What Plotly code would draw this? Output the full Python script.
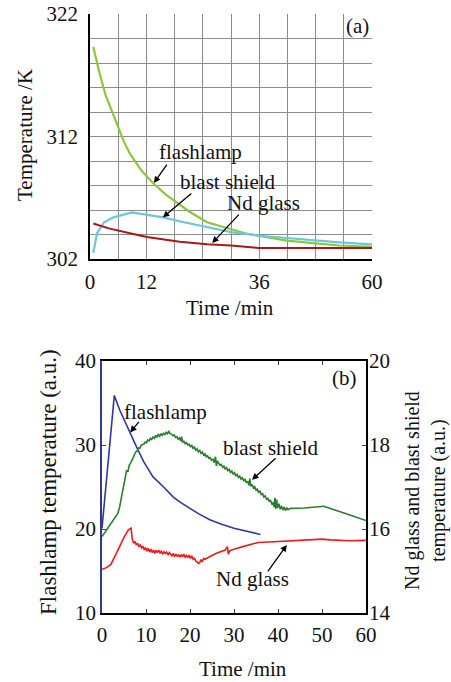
import plotly.graph_objects as go

# ---------------- Panel (a) data ----------------
a_flash_t = [0.7, 2, 3.3, 4.6, 6.0, 7.2, 8.5, 11, 13.4, 16, 18.5, 21, 24.9, 27.5, 30.4, 33, 35.8, 41.9, 47.5, 53, 60]
a_flash_T = [319.3, 317.2, 315.4, 314.1, 312.8, 311.6, 310.6, 309.2, 308.2, 307.3, 306.6, 305.9, 305.0, 304.7, 304.4, 304.1, 303.9, 303.5, 303.3, 303.1, 303.0]
a_shield_t = [0.7, 1.5, 3.0, 5, 8.9, 12, 15.5, 20, 24.9, 30, 36.2, 42, 47.5, 53, 60]
a_shield_T = [302.5, 304.1, 305.0, 305.4, 305.8, 305.6, 305.4, 305.0, 304.6, 304.2, 303.9, 303.7, 303.5, 303.35, 303.2]
a_nd_t = [0.7, 4, 8.5, 12.1, 19.1, 24.9, 30, 35.8, 45, 60]
a_nd_T = [304.9, 304.5, 304.1, 303.8, 303.4, 303.2, 303.1, 302.9, 302.9, 302.9]
a_xticks = [0, 12, 36, 60]
a_yticks = [302, 312, 322]

# ---------------- Panel (b) data ----------------
b_flash_t = [0, 2.8, 4, 5, 6.4, 8, 9.5, 11.6, 14, 16.2, 18, 20, 22, 24.5, 27, 30, 33, 36]
b_flash_v = [20.1, 35.9, 34.2, 33.0, 31.5, 29.6, 28.0, 26.2, 25.0, 23.8, 23.1, 22.4, 21.8, 21.1, 20.6, 20.1, 19.7, 19.35]

b_shield_t = [0, 1, 2, 3, 3.6, 4.0, 4.5, 5.0, 5.3, 5.6, 5.9, 6.2, 6.5, 6.8, 7.1, 7.4, 7.7, 8.0, 8.3, 8.6, 8.9,
              9.2, 9.5, 9.8, 10.1, 10.4, 10.7, 11.0, 11.3, 11.6, 11.9, 12.2, 12.5, 12.8, 13.1, 13.4, 13.7, 14.0,
              14.3, 14.6, 14.9, 15.2, 15.5, 15.8, 16.1, 16.4, 16.7, 17.0, 17.3, 17.6, 17.9, 18.1, 18.3, 18.6,
              18.9, 19.2, 19.5, 19.8, 20.1, 20.4, 20.7, 21.0, 21.3, 21.6, 21.9, 22.2, 22.5, 22.8, 23.1, 23.4,
              23.7, 24.0, 24.3, 24.6, 24.9, 25.2, 25.5, 25.8, 26.0, 26.2, 26.5, 26.8, 27.1, 27.4, 27.7, 28.0,
              28.3, 28.6, 28.9, 29.2, 29.5, 29.8, 30.1, 30.4, 30.7, 31.0, 31.3, 31.6, 31.9, 32.2, 32.5, 32.8,
              33.1, 33.4, 33.6, 33.8, 34.1, 34.4, 34.7, 35.0, 35.3, 35.6, 35.9, 36.2, 36.5, 36.8, 37.1, 37.4,
              37.7, 38.0, 38.3, 38.6, 38.9, 39.1, 39.3, 39.5, 39.7, 39.9, 40.2, 40.5, 40.8, 41.1, 41.4, 41.7,
              42.0, 42.3, 42.6, 43.0, 46, 50.4, 55, 60]
b_shield_v = [15.82, 15.98, 16.12, 16.27, 16.37, 16.52, 16.80, 17.08, 17.22, 17.40, 17.36, 17.52, 17.57, 17.66,
              17.70, 17.78, 17.84, 17.86, 17.93, 17.92, 17.99, 18.01, 18.02, 18.07, 18.05, 18.12, 18.10, 18.16,
              18.13, 18.19, 18.16, 18.23, 18.18, 18.25, 18.21, 18.27, 18.22, 18.29, 18.24, 18.30, 18.27, 18.32,
              18.27, 18.26, 18.22, 18.24, 18.18, 18.20, 18.14, 18.17, 18.10, 18.20, 18.06, 18.09, 18.03, 18.06,
              18.00, 18.02, 17.96, 17.99, 17.92, 17.95, 17.88, 17.91, 17.84, 17.88, 17.80, 17.83, 17.76, 17.79,
              17.72, 17.74, 17.68, 17.70, 17.64, 17.66, 17.58, 17.72, 17.50, 17.62, 17.55, 17.52, 17.54, 17.47,
              17.50, 17.43, 17.46, 17.39, 17.42, 17.35, 17.38, 17.31, 17.34, 17.27, 17.30, 17.23, 17.26, 17.19,
              17.22, 17.15, 17.18, 17.10, 17.14, 17.04, 17.20, 17.02, 17.06, 16.98, 17.01, 16.93, 16.95, 16.87,
              16.90, 16.82, 16.84, 16.76, 16.79, 16.71, 16.73, 16.66, 16.68, 16.60, 16.63, 16.52, 16.74, 16.48,
              16.70, 16.50, 16.60, 16.47, 16.55, 16.45, 16.52, 16.44, 16.50, 16.46, 16.48, 16.49, 16.50, 16.54,
              16.38, 16.20]

b_nd_t = [0, 1, 2, 3, 4, 5, 6, 6.6, 6.9, 7.2, 7.5, 7.8, 8.1, 8.4, 8.7, 9.0, 9.3, 9.6, 9.9, 10.2, 10.5, 10.8,
          11.1, 11.4, 11.7, 12.0, 12.3, 12.6, 12.9, 13.2, 13.5, 13.8, 14.1, 14.4, 14.7, 15.0, 15.3, 15.6, 15.9,
          16.2, 16.5, 16.8, 17.1, 17.4, 17.7, 18.0, 18.3, 18.6, 18.9, 19.2, 19.5, 19.8, 20.1, 20.4, 20.7, 21.0,
          21.3, 21.6, 21.9, 22.2, 22.5, 22.8, 23.1, 23.4, 24, 25, 26, 27, 28, 28.5, 28.7, 29, 30, 32, 34, 35.5,
          38, 42, 46, 50, 52, 56, 60]
b_nd_v = [15.04, 15.08, 15.15, 15.35, 15.58, 15.80, 15.98, 16.02, 15.75, 15.66, 15.70, 15.62, 15.66, 15.58,
          15.62, 15.55, 15.59, 15.50, 15.56, 15.47, 15.54, 15.45, 15.52, 15.44, 15.50, 15.42, 15.49, 15.44,
          15.50, 15.43, 15.47, 15.40, 15.46, 15.42, 15.45, 15.38, 15.44, 15.40, 15.36, 15.42, 15.34, 15.40,
          15.35, 15.38, 15.33, 15.39, 15.34, 15.40, 15.33, 15.37, 15.32, 15.38, 15.30, 15.36, 15.28, 15.30,
          15.24, 15.22, 15.18, 15.20, 15.27, 15.22, 15.30, 15.28, 15.32, 15.37, 15.42, 15.46, 15.50, 15.58,
          15.40, 15.48, 15.52, 15.58, 15.64, 15.68, 15.69, 15.71, 15.73, 15.76, 15.74, 15.72, 15.73]

FONT = "Liberation Serif, Tinos, Times New Roman, serif"
W, H = 451, 682


def px(x):
    return x / W


def py(y):
    return 1 - y / H


fig = go.Figure()

# Panel (a)
fig.add_trace(go.Scatter(x=a_flash_t, y=a_flash_T, mode="lines", line=dict(color="#8cc63f", width=2.2),
                         xaxis="x", yaxis="y", showlegend=False))
fig.add_trace(go.Scatter(x=a_shield_t, y=a_shield_T, mode="lines", line=dict(color="#6cc8d6", width=2.2),
                         xaxis="x", yaxis="y", showlegend=False))
fig.add_trace(go.Scatter(x=a_nd_t, y=a_nd_T, mode="lines", line=dict(color="#a81818", width=2),
                         xaxis="x", yaxis="y", showlegend=False))

# Panel (b)
fig.add_trace(go.Scatter(x=b_flash_t, y=b_flash_v, mode="lines", line=dict(color="#2e3a96", width=1.6),
                         xaxis="x2", yaxis="y2", showlegend=False))
fig.add_trace(go.Scatter(x=b_shield_t, y=b_shield_v, mode="lines", line=dict(color="#2b7d2b", width=1.6),
                         xaxis="x2", yaxis="y3", showlegend=False))
fig.add_trace(go.Scatter(x=b_nd_t, y=b_nd_v, mode="lines", line=dict(color="#e81c1c", width=1.6),
                         xaxis="x2", yaxis="y3", showlegend=False))

tickfont = dict(family=FONT, size=21, color="#111")
grid = "#8c8c8c"

layout = dict(
    width=W, height=H, margin=dict(l=0, r=0, t=0, b=0),
    paper_bgcolor="white", plot_bgcolor="white",
    font=dict(family=FONT, size=20, color="#111"),
    xaxis=dict(domain=[px(90), px(372)], range=[0, 60], tickvals=a_xticks, ticks="",
               showgrid=True, gridcolor=grid, gridwidth=1,
               minor=dict(dtick=6, tick0=0, showgrid=True, gridcolor=grid, gridwidth=1),
               showline=True, linecolor="black", linewidth=1.5, zeroline=False,
               tickfont=tickfont, anchor="y", automargin=False, ticklabelstandoff=3),
    yaxis=dict(domain=[py(259), py(14)], range=[302, 322], tickvals=a_yticks, ticks="",
               showgrid=True, gridcolor=grid, gridwidth=1,
               minor=dict(dtick=2, tick0=302, showgrid=True, gridcolor=grid, gridwidth=1),
               showline=True, linecolor="black", linewidth=1.5, zeroline=False,
               tickfont=tickfont, anchor="x", automargin=False, ticklabelstandoff=6),
    xaxis2=dict(domain=[px(102), px(366)], range=[0, 60], dtick=10, tick0=0, ticks="inside", ticklen=4,
                showgrid=False, showline=True, linecolor="black", linewidth=1.5, mirror="ticks",
                zeroline=False, tickfont=tickfont, anchor="y2", automargin=False, ticklabelstandoff=2),
    yaxis2=dict(domain=[py(613), py(361)], range=[10, 40], dtick=10, tick0=10, ticks="inside", ticklen=4,
                showgrid=False, showline=True, linecolor="#2e3a96", linewidth=1.5, zeroline=False,
                tickfont=tickfont, anchor="x2", automargin=False, ticklabelstandoff=0),
    yaxis3=dict(range=[14, 20], dtick=2, tick0=14, ticks="inside", ticklen=4, overlaying="y2", side="right",
                showgrid=False, showline=True, linecolor="black", linewidth=1.5, zeroline=False,
                tickfont=tickfont, anchor="x2", automargin=False, ticklabelstandoff=-3),
)
fig.update_layout(**layout)

lab = dict(family=FONT, size=21, color="#111")
ttl = dict(family=FONT, size=21, color="#111")
C = dict(xanchor="center", yanchor="middle", showarrow=False)
ann = []
# axis titles
ann.append(dict(text="Temperature /K", x=px(25), y=py(135), xref="paper", yref="paper", textangle=-90,
                font=ttl, **C))
ann.append(dict(text="Time /min", x=px(230), y=py(308), xref="paper", yref="paper", font=ttl, **C))
ann.append(dict(text="Flashlamp temperature (a.u.)", x=px(48), y=py(482), xref="paper", yref="paper",
                textangle=-90, font=dict(family=FONT, size=23, color="#111"), **C))
ann.append(dict(text="Nd glass and blast shield<br>temperature (a.u.)", x=px(425), y=py(491), xref="paper",
                yref="paper", textangle=-90, font=dict(family=FONT, size=20, color="#111"), **C))
ann.append(dict(text="Time /min", x=px(243), y=py(669), xref="paper", yref="paper", font=ttl, **C))

# panel (a) labels
ann.append(dict(text="(a)", x=57.0, y=321.0, xref="x", yref="y", font=lab, **C))
ann.append(dict(text="flashlamp", x=23.6, y=310.7, xref="x", yref="y", font=lab, **C))
ann.append(dict(text="blast shield", x=29.4, y=308.3, xref="x", yref="y", font=lab, **C))
ann.append(dict(text="Nd glass", x=37.0, y=306.6, xref="x", yref="y", font=lab, **C))
for (hx, hy, ax, ay) in [(13.6, 308.2, 14, -20), (15.5, 305.4, 30, -25), (26.0, 303.3, 28, -30)]:
    ann.append(dict(text="", x=hx, y=hy, xref="x", yref="y", ax=ax, ay=ay, showarrow=True,
                    arrowhead=2, arrowsize=1, arrowwidth=1.3, arrowcolor="black", standoff=0))

# panel (b) labels
ann.append(dict(text="(b)", x=55.2, y=38.0, xref="x2", yref="y2", font=lab, **C))
ann.append(dict(text="flashlamp", x=14.5, y=33.9, xref="x2", yref="y2", font=lab, **C))
ann.append(dict(text="", x=6.4, y=31.5, xref="x2", yref="y2", ax=10, ay=-12, showarrow=True,
                arrowhead=2, arrowsize=1, arrowwidth=1.3, arrowcolor="black", standoff=0))
ann.append(dict(text="blast shield", x=38.4, y=17.93, xref="x2", yref="y3", font=lab, **C))
ann.append(dict(text="", x=34.1, y=17.17, xref="x2", yref="y3", ax=25, ay=-23, showarrow=True,
                arrowhead=2, arrowsize=1, arrowwidth=1.3, arrowcolor="black", standoff=0))
ann.append(dict(text="Nd glass", x=34.3, y=14.81, xref="x2", yref="y3", font=lab, **C))
ann.append(dict(text="", x=42.0, y=15.62, xref="x2", yref="y3", ax=-20, ay=28, showarrow=True,
                arrowhead=2, arrowsize=1, arrowwidth=1.3, arrowcolor="black", standoff=0))

fig.update_layout(annotations=ann)
fig.write_html("out.html", config={"displayModeBar": False},
               post_script="document.body.style.margin='0px';")
